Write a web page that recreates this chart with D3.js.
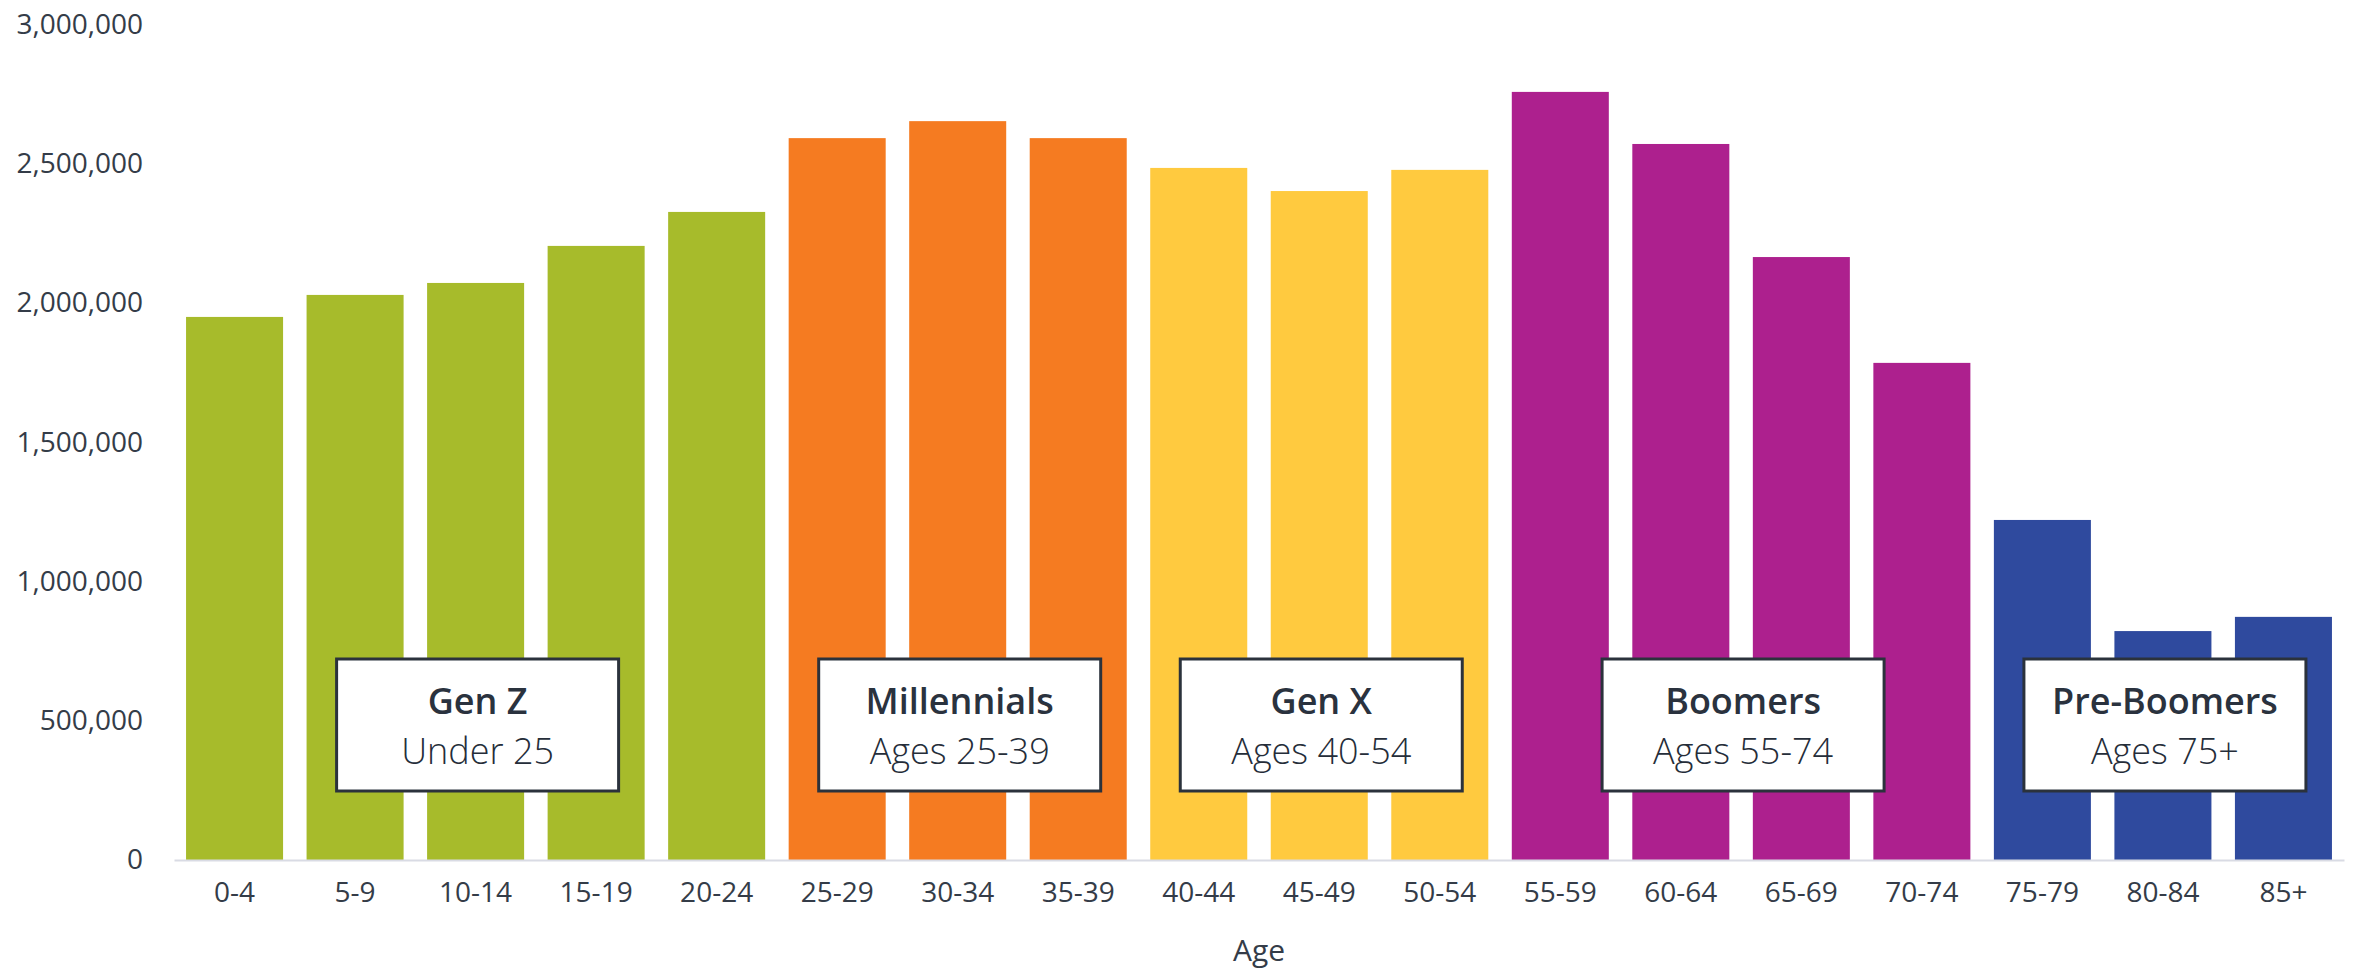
<!DOCTYPE html>
<html>
<head>
<meta charset="utf-8">
<script src="https://cdn.jsdelivr.net/npm/d3@7"></script>
<style>
    body { margin: 0; background: #fff; }
    svg { display: block; font-family: "Open Sans", "Noto Sans", sans-serif; }
</style>
</head>
<body>
<div id="chart"></div>
<script>

// age bands and population per band
const ages = ["0-4", "5-9", "10-14", "15-19", "20-24", "25-29", "30-34", "35-39", "40-44",
    "45-49", "50-54", "55-59", "60-64", "65-69", "70-74", "75-79", "80-84", "85+"];
const population = [1950000, 2029000, 2072000, 2205000, 2327000, 2592000, 2653000, 2592000, 2485000,
    2402000, 2478000, 2758000, 2571000, 2165000, 1785000, 1221000, 822000, 873000];

// generation of each band
const generation = ["Gen Z", "Gen Z", "Gen Z", "Gen Z", "Gen Z",
    "Millennials", "Millennials", "Millennials",
    "Gen X", "Gen X", "Gen X",
    "Boomers", "Boomers", "Boomers", "Boomers",
    "Pre-Boomers", "Pre-Boomers", "Pre-Boomers"];

const genNames = ["Gen Z", "Millennials", "Gen X", "Boomers", "Pre-Boomers"];
const genRanges = ["Under 25", "Ages 25-39", "Ages 40-54", "Ages 55-74", "Ages 75+"];
const genColors = ["#a7bb2b", "#f57b21", "#ffca3f", "#ad208e", "#2f4a9e"];

const yTicks = [0, 500000, 1000000, 1500000, 2000000, 2500000, 3000000];

const width = 2356, height = 969;
const margin = {top: 24, right: 12, bottom: 109, left: 174};

const svg = d3.select("#chart").append("svg")
    .attr("width", width)
    .attr("height", height);

const x = d3.scaleBand()
    .domain(ages)
    .range([margin.left, width - margin.right])
    .paddingInner(0.195)
    .paddingOuter(0.1);

const y = d3.scaleLinear()
    .domain([0, 3000000])
    .range([height - margin.bottom, margin.top + 0.5]);

const color = d3.scaleOrdinal().domain(genNames).range(genColors);

// bars
svg.append("g")
    .selectAll("rect")
    .data(ages)
    .join("rect")
    .attr("x", d => x(d))
    .attr("width", x.bandwidth())
    .attr("y", (d, i) => y(population[i]))
    .attr("height", (d, i) => y(0) - y(population[i]))
    .attr("fill", (d, i) => color(generation[i]));

// y axis, labels only
const yAxis = svg.append("g")
    .attr("transform", `translate(${margin.left - 31},0)`)
    .call(d3.axisLeft(y).tickValues(yTicks).tickSize(0).tickFormat(d3.format(",")));
yAxis.select(".domain").remove();
yAxis.selectAll("text")
    .attr("x", 0)
    .attr("font-size", "28px")
    .attr("font-family", "'Open Sans', sans-serif")
    .attr("fill", "#343c48");

// x axis
const xAxis = svg.append("g")
    .attr("transform", `translate(0,${y(0)})`)
    .call(d3.axisBottom(x).tickSize(0).tickPadding(22));
xAxis.select(".domain")
    .attr("stroke", "#d9dbe4")
    .attr("stroke-width", 2);
xAxis.selectAll("text")
    .attr("font-size", "28px")
    .attr("font-family", "'Open Sans', sans-serif")
    .attr("fill", "#343c48");

svg.append("text")
    .attr("x", (margin.left + width - margin.right) / 2)
    .attr("y", 961)
    .attr("text-anchor", "middle")
    .attr("font-size", "30px")
    .attr("fill", "#343c48")
    .text("Age");

// generation label boxes, centred over each group of bars
const boxW = 282, boxH = 132, boxTop = 659;
const groups = genNames.map((g, k) => {
    const bands = ages.filter((a, i) => generation[i] === g);
    const first = x(bands[0]), last = x(bands[bands.length - 1]) + x.bandwidth();
    return {name: g, range: genRanges[k], cx: (first + last) / 2};
});

const box = svg.append("g")
    .selectAll("g")
    .data(groups)
    .join("g")
    .attr("transform", d => `translate(${d.cx + 2},${boxTop})`);

box.append("rect")
    .attr("x", -boxW / 2)
    .attr("width", boxW)
    .attr("height", boxH)
    .attr("fill", "#fff")
    .attr("stroke", "#2b323c")
    .attr("stroke-width", 3);

box.append("text")
    .attr("y", 55)
    .attr("text-anchor", "middle")
    .attr("font-size", "36px")
    .attr("font-weight", 600)
    .attr("fill", "#2a323e")
    .text(d => d.name);

box.append("text")
    .attr("y", 105)
    .attr("text-anchor", "middle")
    .attr("font-size", "36px")
    .attr("font-weight", 300)
    .attr("fill", "#252d39")
    .text(d => d.range);

</script>
</body>
</html>
